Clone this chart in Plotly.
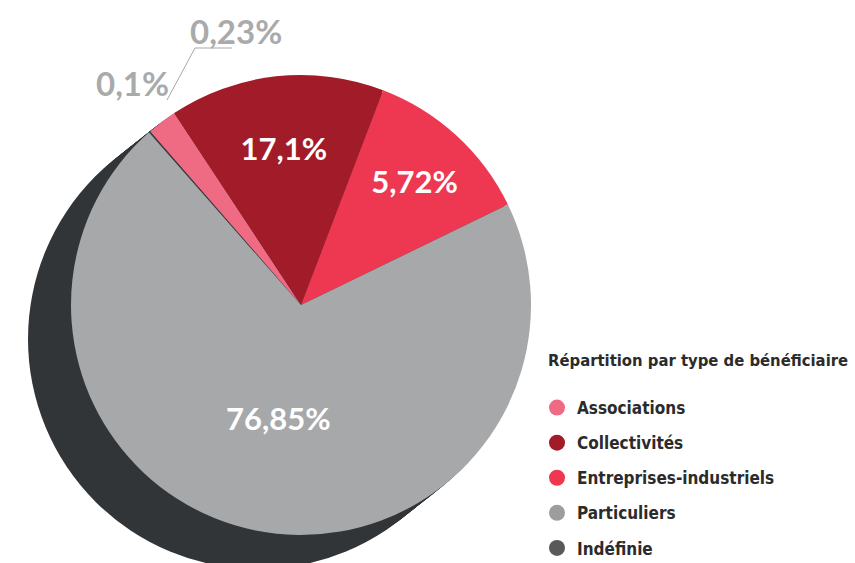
import plotly.graph_objects as go

W, H = 855, 563

# ---- data -------------------------------------------------------------
categories = ["Associations", "Collectivités", "Entreprises-industriels", "Particuliers", "Indéfinie"]
printed_labels = ["0,23%", "17,1%", "5,72%", "76,85%", "0,1%"]
# slice sizes as they are drawn in the picture (percent of the circle)
slice_share = [2.1, 15.1, 12.0, 70.7, 0.1]
slice_colors = ["#ef6a83", "#a11b28", "#ee3750", "#a7a8aa", "#3c3e41"]
legend_colors = ["#ef6a83", "#a11b28", "#ee3750", "#9c9d9f", "#58595b"]
legend_title = "Répartition par type de bénéficiaire"


def px(x):
    return x / W


def py(y):
    return 1 - y / H


# pie geometry (pixels)
CX, CY, R = 301, 305, 230
SHX, SHY = -43, 34  # extrusion offset of the dark side

inside_text = [t if s > 5 else "" for t, s in zip(printed_labels, slice_share)]

fig = go.Figure()

fig.add_trace(go.Pie(
    labels=categories,
    values=slice_share,
    text=inside_text,
    textinfo="text",
    textposition="inside",
    insidetextorientation="horizontal",
    sort=False,
    direction="clockwise",
    rotation=-41,
    marker=dict(colors=slice_colors, line=dict(width=0)),
    textfont=dict(family="Lato, 'Open Sans', sans-serif", size=31, color="white", weight="bold"),
    domain=dict(x=[px(CX - R), px(CX + R)], y=[py(CY + R), py(CY - R)]),
    showlegend=False,
    hoverinfo="label+text",
))

# legend entries with round markers
for i, (cat, col) in enumerate(zip(categories, legend_colors)):
    fig.add_trace(go.Scatter(
        x=[None], y=[None], mode="markers", name=cat,
        marker=dict(symbol="circle", size=16, color=col),
        legendgroup=f"g{i}", showlegend=True,
    ))

# dark extruded side of the pie
shapes = []
steps = 14
for k in range(1, steps + 1):
    dx = SHX * k / steps
    dy = SHY * k / steps
    shapes.append(dict(
        type="circle", xref="paper", yref="paper", layer="below",
        x0=px(CX + dx - R), x1=px(CX + dx + R),
        y0=py(CY + dy + R), y1=py(CY + dy - R),
        fillcolor="#323538", line=dict(width=0),
    ))

# leader line of the small label
shapes.append(dict(
    type="path", xref="paper", yref="paper", layer="above",
    path=f"M {px(232)},{py(48)} L {px(195)},{py(48)} L {px(167)},{py(100)}",
    line=dict(color="#a7a8aa", width=1),
))

lab_font = dict(family="Lato, 'Open Sans', sans-serif", size=33, color="#a9aaac", weight="bold")
legend_font_family = "'Liberation Sans Narrow', 'DejaVu Sans Condensed', 'Roboto Condensed', sans-serif"
annotations = [
    dict(text=printed_labels[0], x=px(236), y=py(31), xref="paper", yref="paper",
         showarrow=False, font=lab_font, xanchor="center", yanchor="middle"),
    dict(text=printed_labels[4], x=px(132), y=py(83), xref="paper", yref="paper",
         showarrow=False, font=lab_font, xanchor="center", yanchor="middle"),
    dict(text=legend_title, x=px(546), y=py(360), xref="paper", yref="paper",
         showarrow=False, xanchor="left", yanchor="middle",
         font=dict(family=legend_font_family, size=16.5, color="#2b2b2b", weight="bold")),
]

fig.update_layout(
    width=W, height=H,
    margin=dict(l=0, r=0, t=0, b=0, autoexpand=False),
    paper_bgcolor="white", plot_bgcolor="rgba(0,0,0,0)",
    template="none",
    xaxis=dict(visible=False), yaxis=dict(visible=False),
    shapes=shapes,
    annotations=annotations,
    legend=dict(
        x=px(537), y=py(390), xanchor="left", yanchor="top",
        tracegroupgap=10, itemclick=False,
        font=dict(family=legend_font_family, size=17, color="#2b2b2b", weight="bold"),
        bgcolor="rgba(0,0,0,0)",
    ),
    showlegend=True,
)

fig.write_html("out.html", config={"displayModeBar": False},
               post_script="document.body.style.margin='0px';")
